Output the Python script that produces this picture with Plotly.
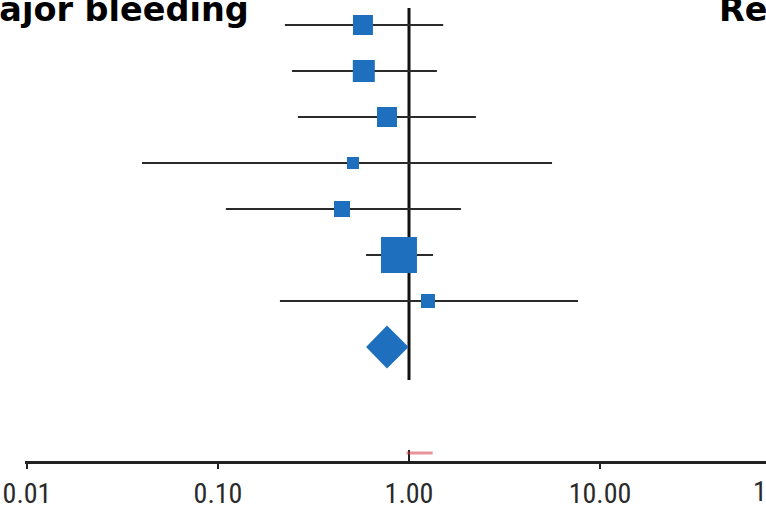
import plotly.graph_objects as go

# Study-level odds ratios with 95% CI (major bleeding)
studies = ["Study 1", "Study 2", "Study 3", "Study 4", "Study 5", "Study 6", "Study 7"]
estimate = [0.574, 0.58, 0.767, 0.509, 0.446, 0.886, 1.257]
ci_low = [0.224, 0.244, 0.262, 0.040, 0.110, 0.596, 0.211]
ci_high = [1.51, 1.40, 2.24, 5.61, 1.87, 1.336, 7.67]
weight_px = [20, 22, 20, 12, 16, 36, 14]

# Pooled estimate
pooled_est = 0.767
pooled_low = 0.596
pooled_high = 0.995

tick_vals = [0.01, 0.1, 1, 10, 100]
tick_text = ["0.01", "0.10", "1.00", "10.00", "100.00"]

BLUE = "#1f6fbf"
LINE = "#2a2a2a"
TITLE_FONT = dict(family="DejaVu Sans", size=33.5, color="#000000", weight="bold")
TICK_FONT = dict(family="Roboto Condensed, PT Sans Narrow, Liberation Sans Narrow, Roboto",
                 size=28, color="#2a2a2a")

W, H = 766, 510
ML, MR, MT, MB = 25, 0, 0, 49
plot_w = W - ML - MR
plot_h = H - MT - MB

# log axis range: 0.01 sits 2px inside the left edge, one decade = 191px
x_range = [-2 - 2 / 191, -2 + (plot_w - 2) / 191]
# rows are 46px apart, first row centred 25px below the top
row_px = 46
y_top = -25 / row_px
y_bottom = (plot_h - 25) / row_px

rows = list(range(len(studies)))
pooled_row = len(studies)

fig = go.Figure()

# confidence interval whiskers
cx, cy = [], []
for r, lo, hi in zip(rows, ci_low, ci_high):
    cx += [lo, hi, None]
    cy += [r, r, None]
fig.add_trace(go.Scatter(x=cx, y=cy, mode="lines",
                         line=dict(color=LINE, width=2), hoverinfo="skip",
                         showlegend=False))

# study point estimates, square size by weight
fig.add_trace(go.Scatter(x=estimate, y=rows, mode="markers",
                         marker=dict(symbol="square", size=weight_px, color=BLUE,
                                     opacity=1, line=dict(width=0)),
                         text=studies, showlegend=False))

# pooled diamond
half_h = 21.5 / row_px
fig.add_trace(go.Scatter(
    x=[pooled_low, pooled_est, pooled_high, pooled_est, pooled_low],
    y=[pooled_row, pooled_row - half_h, pooled_row, pooled_row + half_h, pooled_row],
    mode="lines", fill="toself", fillcolor=BLUE, line=dict(color=BLUE, width=0),
    showlegend=False))

shapes = []
# line of no effect
shapes.append(dict(type="line", xref="x", yref="y", x0=1, x1=1,
                   y0=(8 - 25) / row_px, y1=(380 - 25) / row_px,
                   line=dict(color="#111111", width=3), layer="below"))

# tick marks under the axis line (the 1.00 mark points upward)
tick_len = 8 / plot_h
for v in tick_vals:
    if v == 1:
        shapes.append(dict(type="line", xref="x", yref="paper", x0=v, x1=v,
                           y0=0, y1=11 / plot_h,
                           line=dict(color="#222222", width=2)))
    else:
        shapes.append(dict(type="line", xref="x", yref="paper", x0=v, x1=v,
                           y0=0, y1=-tick_len,
                           line=dict(color="#222222", width=2)))
# faint red mark just above the axis at 1.00
shapes.append(dict(type="line", xref="x", yref="paper", x0=0.97, x1=1.33,
                   y0=8 / plot_h, y1=8 / plot_h,
                   line=dict(color="rgba(215,60,70,0.55)", width=3)))

annotations = [
    dict(text="Major bleeding", xref="paper", yref="paper",
         x=(-36 - ML) / plot_w, y=1 + 12 / plot_h, xanchor="left", yanchor="top",
         showarrow=False, font=TITLE_FONT),
    dict(text="Recurrent VTE", xref="paper", yref="paper",
         x=(717 - ML) / plot_w, y=1 + 12 / plot_h, xanchor="left", yanchor="top",
         showarrow=False, font=TITLE_FONT),
    # last decade label sits past the right edge of the plot range
    dict(text=tick_text[-1], xref="paper", yref="paper",
         x=(2 + 4 * 191) / plot_w, y=-12 / plot_h, xanchor="center", yanchor="top",
         showarrow=False, font=TICK_FONT),
]

fig.update_layout(
    width=W, height=H,
    margin=dict(l=ML, r=MR, t=MT, b=MB, autoexpand=False),
    paper_bgcolor="white", plot_bgcolor="white",
    shapes=shapes, annotations=annotations,
    xaxis=dict(type="log", range=x_range, showgrid=False, zeroline=False,
               showline=True, linecolor="#222222", linewidth=3,
               tickvals=tick_vals[:-1], ticktext=tick_text[:-1], ticks="",
               ticklabelstandoff=5, ticklabeloverflow="allow",
               tickfont=TICK_FONT),
    yaxis=dict(range=[y_bottom, y_top], showgrid=False, zeroline=False,
               showline=False, showticklabels=False, ticks=""),
)

fig.write_html("out.html", config={"displayModeBar": False})
